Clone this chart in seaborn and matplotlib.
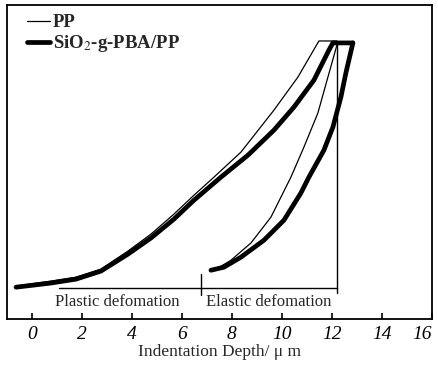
import numpy as np
import pandas as pd
import matplotlib
matplotlib.use("Agg")
import matplotlib.pyplot as plt
import seaborn as sns
from matplotlib.lines import Line2D

# ---- data (indentation depth in um, load in arbitrary units) ----
pp_load_depth = [-0.64, 0.76, 1.76, 2.76, 3.84, 4.76, 5.68, 6.48, 7.28, 8.36, 9.68, 10.64, 11.48, 12.2]
pp_load_force = [11.9, 13.7, 15.1, 18.0, 24.5, 30.6, 37.8, 44.6, 51.1, 60.1, 75.2, 87.1, 100.1, 100.1]

pp_unload_depth = [12.2, 11.84, 11.44, 10.88, 10.36, 9.56, 8.76, 7.96, 7.44]
pp_unload_force = [98.6, 87.1, 74.2, 61.9, 51.1, 36.7, 27.4, 21.2, 18.4]

si_load_depth = [-0.64, 0.76, 1.76, 2.76, 3.84, 4.76, 5.68, 6.48, 7.56, 8.64, 9.68, 10.48, 11.28, 11.88, 12.04, 12.84]
si_load_force = [11.5, 13.0, 14.4, 17.3, 23.4, 29.2, 36.0, 42.8, 51.1, 59.0, 68.0, 76.3, 86.0, 96.8, 99.4, 99.4]

si_unload_depth = [12.84, 12.56, 12.36, 12.04, 11.68, 11.08, 10.76, 10.08, 9.28, 8.36, 7.68, 7.16]
si_unload_force = [99.4, 88.6, 79.9, 69.1, 60.8, 51.1, 45.4, 35.6, 28.4, 22.3, 18.7, 17.6]

xticks = [0, 2, 4, 6, 8, 10, 12, 14, 16]
plastic_span = [1.08, 6.76]
elastic_span = [6.76, 12.2]
baseline_force = 11.3
vline_top = 99.0

sns.set_theme(style="white")
plt.rcParams['font.family'] = ['Liberation Serif', 'DejaVu Serif']
plt.rcParams['mathtext.fontset'] = 'stix'

fig = plt.figure(figsize=(4.38, 3.66), dpi=100)
ax = fig.add_axes([0.016, 0.128, 0.970, 0.858])

def seg(x, y, lw):
    df = pd.DataFrame({"d": x, "f": y})
    sns.lineplot(data=df, x="d", y="f", sort=False, estimator=None, ax=ax,
                 color="black", linewidth=lw, legend=False)

seg(si_load_depth, si_load_force, 3.4)
seg(si_unload_depth, si_unload_force, 3.4)
seg(pp_load_depth, pp_load_force, 0.9)
seg(pp_unload_depth, pp_unload_force, 0.9)

# vertical line at max depth and deformation scale
ax.plot([elastic_span[1], elastic_span[1]], [vline_top, baseline_force - 2], color="black", lw=1.0)
ax.plot([plastic_span[0], elastic_span[1]], [baseline_force, baseline_force], color="black", lw=1.0)
ax.plot([plastic_span[1], plastic_span[1]], [baseline_force + 5, baseline_force - 2.5], color="black", lw=1.0)
ax.text(sum(plastic_span) / 2 - 0.5, baseline_force - 2.3, "Plastic defomation",
        ha="center", va="top", fontsize=12)
ax.text(sum(elastic_span) / 2, baseline_force - 2.3, "Elastic defomation",
        ha="center", va="top", fontsize=12)

# legend
handles = [Line2D([], [], color="black", lw=0.9),
           Line2D([], [], color="black", lw=3.4)]
leg = ax.legend(handles, ["PP", r"SiO$_2$-g-PBA/PP"], loc="upper left",
                frameon=False, fontsize=13.5, handlelength=1.2, handletextpad=0.15,
                labelspacing=0.1, borderaxespad=0.0, bbox_to_anchor=(0.03, 0.995))
for t in leg.get_texts():
    t.set_fontweight("bold")

ax.set_xlim(-1, 16)
ax.set_ylim(0, 113)
ax.set_xticks(xticks)
ax.set_xticklabels([str(t) for t in xticks], fontstyle="italic", fontsize=14)
ax.get_xticklabels()[-1].set_ha("right")
ax.set_yticks([])
ax.set_ylabel("")
ax.set_xlabel("Indentation Depth/ μ m", fontsize=12.5, labelpad=1)
ax.tick_params(axis="x", direction="in", length=4, width=1.2, pad=5, bottom=True, colors="black")
for s in ax.spines.values():
    s.set_color("black")
    s.set_linewidth(1.3)

fig.savefig("out.png", dpi=100)
